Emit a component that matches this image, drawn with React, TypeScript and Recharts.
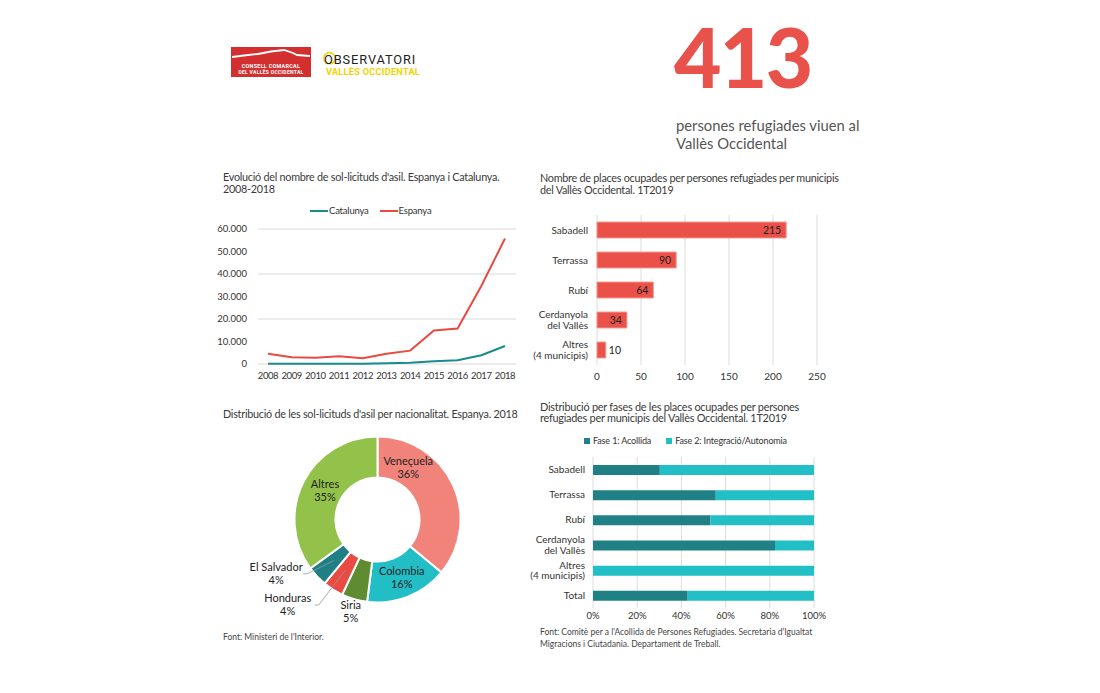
import React from "react";
import {
    LineChart,
    Line,
    BarChart,
    Bar,
    PieChart,
    Pie,
    Cell,
    XAxis,
    YAxis,
    CartesianGrid,
    LabelList,
} from "recharts";

const FONT = "Lato, 'Open Sans', sans-serif";

// evolució de les sol·licituds d'asil
const years = ["2008", "2009", "2010", "2011", "2012", "2013", "2014", "2015", "2016", "2017", "2018"];
const espanya = [4517, 3007, 2744, 3414, 2588, 4513, 5947, 14881, 15755, 34700, 55749];
const catalunya = [150, 130, 120, 150, 160, 300, 600, 1200, 1700, 3900, 8000];
const asilTicks = [0, 10000, 20000, 30000, 40000, 50000, 60000];

// places ocupades per municipi
const municipis = ["Sabadell", "Terrassa", "Rubí", "Cerdanyola\ndel Vallès", "Altres\n(4 municipis)"];
const places = [215, 90, 64, 34, 10];
const placesTicks = [0, 50, 100, 150, 200, 250];

// places per fase
const fasesCats = ["Sabadell", "Terrassa", "Rubí", "Cerdanyola\ndel Vallès", "Altres\n(4 municipis)", "Total"];
const fase1 = [65, 50, 34, 28, 0, 177];
const fase2 = [150, 40, 30, 6, 10, 236];
const pctTicks = [0, 0.2, 0.4, 0.6, 0.8, 1];

// nacionalitats
const nacionalitats = ["Veneçuela", "Colombia", "Siria", "Honduras", "El Salvador", "Altres"];
const percentatges = [36, 16, 5, 4, 4, 35];
const pieColors = ["#f1837b", "#22bec6", "#5f8c30", "#e94b42", "#1f7f84", "#93c24b"];

const TEAL = "#1a8b8d";
const RED = "#ea4a42";
const BAR_RED = "#ea5148";
const FASE1 = "#1f8186";
const FASE2 = "#22bfc7";

const asilData = years.map((year, i) => ({ year, catalunya: catalunya[i], espanya: espanya[i] }));
const placesData = municipis.map((name, i) => ({ name, places: places[i] }));
const fasesData = fasesCats.map((name, i) => ({ name, fase1: fase1[i], fase2: fase2[i] }));
const pieData = nacionalitats.map((name, i) => ({ name, value: percentatges[i] }));

const fmtThousands = (v: number) => String(v).replace(/\B(?=(\d{3})+(?!\d))/g, ".");

const tickStyle = { fontSize: 10, fill: "#333", fontFamily: FONT };

// polar placement of the donut labels, relative to each slice mid angle
const LABEL_PLACE: Record<string, { da: number; r: number; leader?: boolean }> = {
    "Veneçuela": { da: 34, r: 60 },
    Colombia: { da: 1, r: 63 },
    Siria: { da: 0, r: 96 },
    Honduras: { da: -14, r: 124, leader: true },
    "El Salvador": { da: -15, r: 115, leader: true },
    Altres: { da: -2, r: 60 },
};

const RAD = Math.PI / 180;

function PieLabel(props: any) {
    const { cx, cy, midAngle } = props;
    const name = props.name ?? props.payload?.name;
    const value = props.value ?? props.payload?.value;
    const place = LABEL_PLACE[name];
    const a = (midAngle + place.da) * RAD;
    const lx = cx + place.r * Math.cos(a);
    const ly = cy - place.r * Math.sin(a);
    const m = midAngle * RAD;
    const sx = cx + 60 * Math.cos(m);
    const sy = cy - 60 * Math.sin(m);
    const ex = lx + 27;
    return (
        <g>
            {place.leader && (
                <polyline
                    points={`${sx},${sy} ${ex + 4},${ly} ${ex},${ly}`}
                    stroke="#9a9a9a"
                    strokeWidth={0.8}
                    fill="none"
                />
            )}
            <text x={lx} y={ly} textAnchor="middle" fontSize={11} fill="#222" fontFamily={FONT}>
                <tspan x={lx} dy={-2.6}>{name}</tspan>
                <tspan x={lx} dy={13}>{value}%</tspan>
            </text>
        </g>
    );
}

function MultiTick(props: any) {
    const { x, y, payload } = props;
    const lines = String(payload.value).split("\n");
    const lh = 10.5;
    const y0 = y - ((lines.length - 1) * lh) / 2;
    return (
        <text x={x} y={y0} textAnchor="end" fontSize={10} fill="#333" fontFamily={FONT}>
            {lines.map((l, i) => (
                <tspan key={i} x={x} dy={i === 0 ? "0.35em" : lh}>
                    {l}
                </tspan>
            ))}
        </text>
    );
}

function PlaceLabel(props: any) {
    const { x, y, width, height, value } = props;
    const inside = width > 25;
    return (
        <text
            x={inside ? x + width - 5 : x + width + 3}
            y={y + height / 2}
            dy="0.35em"
            textAnchor={inside ? "end" : "start"}
            fontSize={10.5}
            fill="#222"
            fontFamily={FONT}
        >
            {value}
        </text>
    );
}

const abs = (left: number, top: number, extra: React.CSSProperties = {}): React.CSSProperties => ({
    position: "absolute",
    left,
    top,
    ...extra,
});

const titleStyle: React.CSSProperties = {
    fontSize: 10.8,
    lineHeight: "11.5px",
    color: "#3a3a3a",
    fontFamily: FONT,
    letterSpacing: -0.25,
    whiteSpace: "nowrap",
};

const sourceStyle: React.CSSProperties = {
    fontSize: 8.5,
    lineHeight: "11.5px",
    color: "#444",
    fontFamily: FONT,
    whiteSpace: "nowrap",
};

function Logos() {
    return (
        <>
            <svg style={abs(231, 46)} width={82} height={34}>
                <rect x={0} y={1} width={80} height={30} fill="#d32f2e" />
                <polyline
                    points="1,11 13,9.5 27,8 40,5.5 53,4 62,7 66,9 79,10"
                    stroke="#fff"
                    strokeWidth={1.8}
                    fill="none"
                />
                <text x={40} y={22} textAnchor="middle" fontSize={5.4} fontWeight={700} fill="#fff" fontFamily="Roboto" letterSpacing={0.3}>
                    CONSELL COMARCAL
                </text>
                <text x={40} y={28} textAnchor="middle" fontSize={5} fontWeight={700} fill="#fff" fontFamily="Roboto" letterSpacing={0.3}>
                    DEL VALLÈS OCCIDENTAL
                </text>
            </svg>
            <svg style={abs(322, 44)} width={110} height={38}>
                <circle cx={7.5} cy={14.2} r={5.6} stroke="#f2d300" strokeWidth={1.6} fill="none" />
                <text x={2} y={19.5} fontSize={12.8} fill="#222" fontFamily="Roboto" letterSpacing={0.9}>
                    OBSERVATORI
                </text>
                <text x={4} y={30.5} fontSize={9.2} fontWeight={700} fill="#f2d300" fontFamily="Roboto" letterSpacing={0.25}>
                    VALLÈS OCCIDENTAL
                </text>
            </svg>
        </>
    );
}

export default function App() {
    return (
        <div style={{ position: "absolute", left: 0, top: 0, width: 1100, height: 693, background: "#fff", fontFamily: FONT, overflow: "hidden" }}>
            <Logos />

            <svg style={abs(664, 6)} width={180} height={100}>
                <text x={10} y={82} fontSize={82} fontWeight={900} fill="#e9524a" fontFamily={FONT} letterSpacing={-1.7}>
                    413
                </text>
            </svg>
            <div style={abs(676, 116, { fontSize: 14.8, lineHeight: "18px", color: "#555", fontFamily: FONT, whiteSpace: "nowrap" })}>
                persones refugiades viuen al
                <br />
                Vallès Occidental
            </div>

            {/* Evolució */}
            <div style={abs(223, 171, titleStyle)}>
                Evolució del nombre de sol-licituds d'asil. Espanya i Catalunya.
                <br />
                2008-2018
            </div>
            <div style={abs(310, 205, { display: "flex", alignItems: "center", fontSize: 9.5, letterSpacing: -0.2, color: "#333", fontFamily: FONT, whiteSpace: "nowrap" })}>
                <span style={{ display: "inline-block", width: 18, height: 2, background: TEAL, marginRight: 1 }} />
                <span style={{ marginRight: 11 }}>Catalunya</span>
                <span style={{ display: "inline-block", width: 18, height: 2, background: RED, marginRight: 1 }} />
                <span>Espanya</span>
            </div>
            <div style={abs(200, 200)}>
                <LineChart width={320} height={194} data={asilData} margin={{ top: 29, right: 4, left: 0, bottom: 0 }}>
                    <CartesianGrid vertical={false} stroke="#d9d9d9" />
                    <XAxis
                        dataKey="year"
                        tickLine={false}
                        axisLine={false}
                        interval={0}
                        padding={{ left: 10, right: 11 }}
                        tick={{ ...tickStyle, fontSize: 9.5, letterSpacing: -0.4 }}
                    />
                    <YAxis
                        width={58}
                        domain={[0, 60000]}
                        ticks={asilTicks}
                        tickLine={false}
                        axisLine={false}
                        tickMargin={5}
                        tickFormatter={fmtThousands}
                        tick={{ ...tickStyle, fontSize: 9.5 }}
                    />
                    <Line dataKey="catalunya" stroke={TEAL} strokeWidth={2} dot={false} isAnimationActive={false} />
                    <Line dataKey="espanya" stroke={RED} strokeWidth={2} dot={false} isAnimationActive={false} />
                </LineChart>
            </div>

            {/* Places per municipi */}
            <div style={abs(540, 172, titleStyle)}>
                Nombre de places ocupades per persones refugiades per municipis
                <br />
                del Vallès Occidental. 1T2019
            </div>
            <div style={abs(520, 200)}>
                <BarChart
                    width={315}
                    height={195}
                    data={placesData}
                    layout="vertical"
                    margin={{ top: 15, right: 18, left: 0, bottom: 0 }}
                >
                    <CartesianGrid horizontal={false} stroke="#dcdcdc" />
                    <XAxis
                        type="number"
                        domain={[0, 250]}
                        ticks={placesTicks}
                        tickLine={false}
                        axisLine={false}
                        tick={tickStyle}
                    />
                    <YAxis
                        type="category"
                        dataKey="name"
                        width={77}
                        interval={0}
                        tickLine={false}
                        axisLine={false}
                        tickMargin={3}
                        tick={<MultiTick />}
                    />
                    <Bar dataKey="places" barSize={16} fill={BAR_RED} stroke="#f39a94" strokeWidth={1} isAnimationActive={false}>
                        <LabelList dataKey="places" content={<PlaceLabel />} />
                    </Bar>
                </BarChart>
            </div>

            {/* Nacionalitats */}
            <div style={abs(223, 408, titleStyle)}>
                Distribució de les sol-licituds d'asil per nacionalitat. Espanya. 2018
            </div>
            <div style={abs(220, 420)}>
                <PieChart width={310} height={220} margin={{ top: 0, right: 0, bottom: 0, left: 0 }}>
                    <Pie
                        data={pieData}
                        dataKey="value"
                        nameKey="name"
                        cx={157.5}
                        cy={99.5}
                        innerRadius={42}
                        outerRadius={83}
                        startAngle={90}
                        endAngle={-270}
                        stroke="#fff"
                        strokeWidth={2}
                        label={PieLabel}
                        labelLine={false}
                        isAnimationActive={false}
                    >
                        {pieData.map((d, i) => (
                            <Cell key={d.name} fill={pieColors[i]} />
                        ))}
                    </Pie>
                </PieChart>
            </div>
            <div style={abs(223, 632, sourceStyle)}>Font: Ministeri de l'Interior.</div>

            {/* Fases */}
            <div style={abs(540, 401, { ...titleStyle, fontSize: 10.9, lineHeight: "11px" })}>
                Distribució per fases de les places ocupades per persones
                <br />
                refugiades per municipis del Vallès Occidental. 1T2019
            </div>
            <div style={abs(584, 435, { display: "flex", alignItems: "center", fontSize: 9, letterSpacing: -0.15, color: "#333", fontFamily: FONT, whiteSpace: "nowrap" })}>
                <span style={{ display: "inline-block", width: 6, height: 6, background: FASE1, marginRight: 3 }} />
                <span style={{ marginRight: 15 }}>Fase 1: Acollida</span>
                <span style={{ display: "inline-block", width: 6, height: 6, background: FASE2, marginRight: 3 }} />
                <span>Fase 2: Integració/Autonomia</span>
            </div>
            <div style={abs(520, 440)}>
                <BarChart
                    width={315}
                    height={198}
                    data={fasesData}
                    layout="vertical"
                    stackOffset="expand"
                    margin={{ top: 17, right: 21, left: 0, bottom: 0 }}
                >
                    <CartesianGrid horizontal={false} stroke="#dcdcdc" />
                    <XAxis
                        type="number"
                        domain={[0, 1]}
                        ticks={pctTicks}
                        tickLine={false}
                        axisLine={false}
                        tickSize={0}
                        tickMargin={4}
                        tickFormatter={(v: number) => `${Math.round(v * 100)}%`}
                        tick={{ ...tickStyle, fontSize: 9.5 }}
                    />
                    <YAxis
                        type="category"
                        dataKey="name"
                        width={73}
                        interval={0}
                        tickLine={false}
                        axisLine={false}
                        tick={<MultiTick />}
                    />
                    <Bar dataKey="fase1" stackId="a" barSize={10} fill={FASE1} isAnimationActive={false} />
                    <Bar dataKey="fase2" stackId="a" barSize={10} fill={FASE2} isAnimationActive={false} />
                </BarChart>
            </div>
            <div style={abs(540, 627, sourceStyle)}>
                Font: Comitè  per a l'Acollida de Persones Refugiades. Secretaria d'Igualtat
                <br />
                Migracions i Ciutadania. Departament de Treball.
            </div>
        </div>
    );
}
